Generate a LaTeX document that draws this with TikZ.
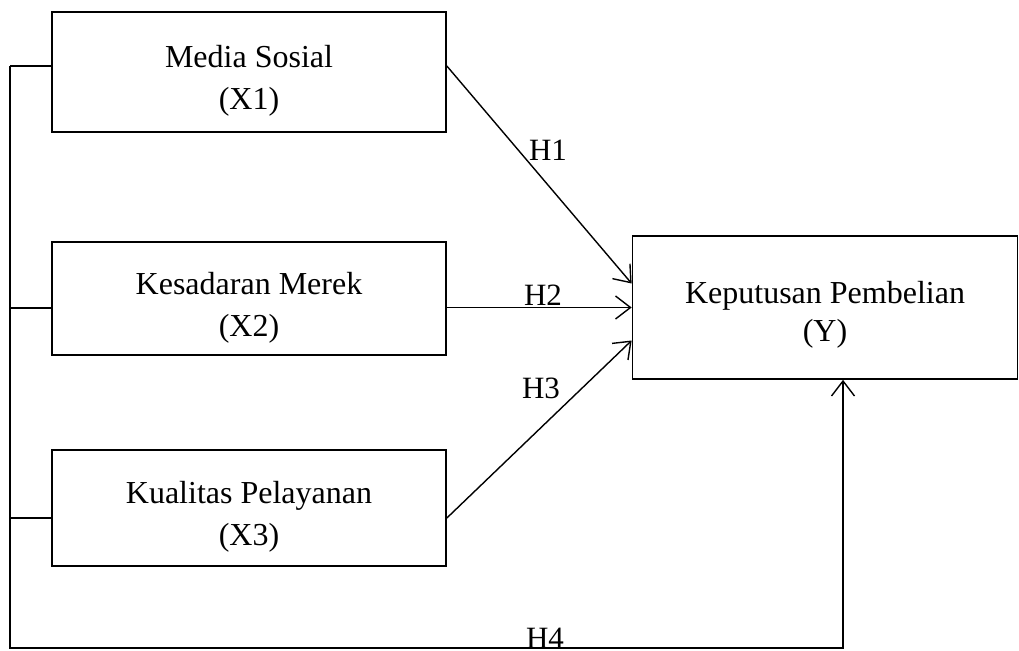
\documentclass[tikz,border=0pt]{standalone}
\usepackage{fontspec}
\setmainfont{Liberation Serif}
\usetikzlibrary{arrows.meta}
\newcommand{\upstrut}[1]{\rule{0pt}{#1}}
\begin{document}
\begin{tikzpicture}[x=1pt,y=-1pt,
  box/.style={draw,line width=1.7pt,inner sep=0pt,align=center,
    font=\fontsize{32}{42}\selectfont},
  conn/.style={line width=1.4pt},
  arr/.style={conn,-{Straight Barb[length=15pt,width=23pt,line width=1.4pt]}},
  hlabel/.style={font=\fontsize{31}{36}\selectfont,inner sep=0pt}]
\useasboundingbox (0,0) rectangle (1019,650);
\node[box,minimum width=394pt,minimum height=120pt] (X1) at (249,72) {\upstrut{40pt}Media Sosial\\(X1)};
\node[box,minimum width=394pt,minimum height=113pt] (X2) at (249,298.5) {\upstrut{40pt}Kesadaran Merek\\(X2)};
\node[box,minimum width=394pt,minimum height=116pt] (X3) at (249,508) {\upstrut{40pt}Kualitas Pelayanan\\(X3)};
\node[box,minimum width=385pt,minimum height=143pt,font=\fontsize{32}{38}\selectfont] (Y) at (825,307.5) {\upstrut{36pt}Keputusan Pembelian\\(Y)};
\coordinate (l1) at (10,66);
\coordinate (l2) at (10,308);
\coordinate (l3) at (10,518);
\coordinate (lb) at (10,648);
\coordinate (cb) at (843,648);
\draw[conn] (l1) -- (X1.west |- l1);
\draw[conn] (l2) -- (X2.west |- l2);
\draw[conn] (l3) -- (X3.west |- l3);
\draw[arr] (l1) -- (lb) -- (cb) -- (Y.south -| cb);
\draw[arr] ([yshift=6pt]X1.east) -- ([yshift=24pt]Y.west);
\draw[arr] (X2.east |- Y.west) -- (Y.west);
\draw[arr] ([yshift=-10pt]X3.east) -- ([yshift=-33pt]Y.west);
\node[hlabel] (h1) at (548,150) {H1};
\node[hlabel] (h2) at (543,295) {H2};
\node[hlabel] (h3) at (541,388) {H3};
\node[hlabel] (h4) at (545,638) {H4};
\end{tikzpicture}
\end{document}
